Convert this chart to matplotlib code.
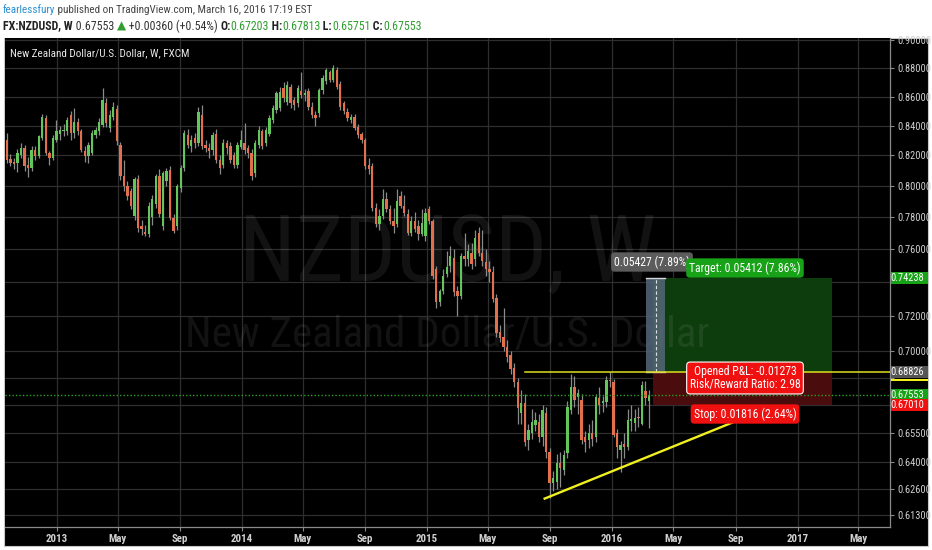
import matplotlib
matplotlib.use('Agg')
import matplotlib.pyplot as plt
import matplotlib.dates as mdates
from matplotlib import font_manager as fm
from matplotlib.patches import Rectangle
from matplotlib.ticker import NullLocator, FixedLocator, FixedFormatter
import pandas as pd

# pick a narrow face if one is installed
ttf = fm.fontManager.ttflist
names = {f.name for f in ttf}
narrow = None
for cand in ['Roboto Condensed', 'Liberation Sans Narrow', 'Open Sans Condensed',
             'DejaVu Sans Condensed', 'Noto Sans Display']:
    if cand in names:
        narrow = cand
        break
stretch = 'normal'
if narrow is None and any(f.name == 'DejaVu Sans' and f.stretch == 'condensed' for f in ttf):
    narrow, stretch = 'DejaVu Sans', 'condensed'
SC = 1.0
if narrow is None:
    narrow, SC = 'Liberation Sans', 0.86
plt.rcParams['font.family'] = [narrow, 'DejaVu Sans']
plt.rcParams['font.stretch'] = stretch

# weekly candles, NZDUSD, first bar = week of 2012-09-24
first_week = '2012-09-24'
opens = [0.8305, 0.8175, 0.8160, 0.8151, 0.8206, 0.8250, 0.8140, 0.8118, 0.8235, 0.8195,
         0.8316, 0.8451, 0.8217, 0.8184, 0.8305, 0.8345, 0.8361, 0.8361, 0.8473, 0.8350,
         0.8428, 0.8361, 0.8228, 0.8195, 0.8217, 0.8339, 0.8361, 0.8406, 0.8554, 0.8383,
         0.8462, 0.8515, 0.8272, 0.8064, 0.8000, 0.7967, 0.7808, 0.8042, 0.7745, 0.7708,
         0.7693, 0.7800, 0.7882, 0.8064, 0.7745, 0.8031, 0.8107, 0.7798, 0.7745, 0.7988,
         0.8118, 0.8339, 0.8261, 0.8316, 0.8283, 0.8473, 0.8272, 0.8250, 0.8239, 0.8345,
         0.8173, 0.8140, 0.8283, 0.8261, 0.8206, 0.8140, 0.8259, 0.8283, 0.8250, 0.8217,
         0.8086, 0.8272, 0.8361, 0.8283, 0.8345, 0.8440, 0.8508, 0.8519, 0.8658, 0.8565,
         0.8670, 0.8580, 0.8554, 0.8640, 0.8610, 0.8640, 0.8530, 0.8475, 0.8485, 0.8647,
         0.8710, 0.8770, 0.8717, 0.8790, 0.8690, 0.8554, 0.8496, 0.8440, 0.8462, 0.8390,
         0.8345, 0.8305, 0.8135, 0.8129, 0.7860, 0.7755, 0.7808, 0.7913, 0.7850, 0.7776,
         0.7755, 0.7935, 0.7871, 0.7819, 0.7703, 0.7776, 0.7745, 0.7693, 0.7680, 0.7850,
         0.7776, 0.7480, 0.7280, 0.7349, 0.7450, 0.7499, 0.7549, 0.7349, 0.7320, 0.7560,
         0.7539, 0.7580, 0.7539, 0.7700, 0.7580, 0.7525, 0.7480, 0.7460, 0.7305, 0.7110,
         0.7081, 0.7024, 0.6977, 0.6902, 0.6828, 0.6655, 0.6709, 0.6513, 0.6548, 0.6592,
         0.6610, 0.6530, 0.6655, 0.6452, 0.6290, 0.6297, 0.6391, 0.6357, 0.6443, 0.6673,
         0.6800, 0.6745, 0.6727, 0.6530, 0.6513, 0.6548, 0.6530, 0.6736, 0.6709, 0.6718,
         0.6838, 0.6828, 0.6548, 0.6460, 0.6490, 0.6478, 0.6612, 0.6601, 0.6637, 0.6600,
         0.6775, 0.67203]
highs = [0.8350, 0.8210, 0.8185, 0.8240, 0.8280, 0.8270, 0.8190, 0.8260, 0.8260, 0.8340,
         0.8480, 0.8470, 0.8230, 0.8340, 0.8440, 0.8400, 0.8410, 0.8460, 0.8500, 0.8520,
         0.8450, 0.8380, 0.8260, 0.8290, 0.8370, 0.8390, 0.8450, 0.8660, 0.8590, 0.8510,
         0.8560, 0.8540, 0.8290, 0.8170, 0.8030, 0.7990, 0.8060, 0.8070, 0.7780, 0.7750,
         0.7900, 0.7940, 0.8080, 0.8110, 0.8100, 0.8120, 0.8130, 0.7820, 0.8010, 0.8140,
         0.8370, 0.8380, 0.8340, 0.8350, 0.8530, 0.8542, 0.8300, 0.8280, 0.8360, 0.8380,
         0.8200, 0.8310, 0.8300, 0.8290, 0.8220, 0.8290, 0.8370, 0.8420, 0.8270, 0.8240,
         0.8300, 0.8400, 0.8380, 0.8390, 0.8470, 0.8540, 0.8640, 0.8670, 0.8700, 0.8710,
         0.8690, 0.8600, 0.8680, 0.8776, 0.8650, 0.8660, 0.8560, 0.8500, 0.8660, 0.8750,
         0.8800, 0.8790, 0.8823, 0.8810, 0.8710, 0.8570, 0.8520, 0.8480, 0.8480, 0.8410,
         0.8360, 0.8320, 0.8180, 0.8150, 0.7890, 0.7850, 0.7980, 0.7960, 0.7880, 0.7860,
         0.7980, 0.7970, 0.7940, 0.7850, 0.7810, 0.7830, 0.7780, 0.7850, 0.7860, 0.7870,
         0.7790, 0.7500, 0.7360, 0.7480, 0.7590, 0.7620, 0.7600, 0.7380, 0.7580, 0.7700,
         0.7630, 0.7640, 0.7720, 0.7740, 0.7720, 0.7600, 0.7530, 0.7500, 0.7330, 0.7150,
         0.7250, 0.7060, 0.7000, 0.6930, 0.6850, 0.6780, 0.6760, 0.6600, 0.6680, 0.6660,
         0.6650, 0.6700, 0.6690, 0.6470, 0.6350, 0.6440, 0.6450, 0.6460, 0.6720, 0.6870,
         0.6860, 0.6790, 0.6760, 0.6560, 0.6600, 0.6620, 0.6760, 0.6800, 0.6750, 0.6860,
         0.6882, 0.6840, 0.6570, 0.6510, 0.6550, 0.6680, 0.6700, 0.6680, 0.6690, 0.6830,
         0.6830, 0.67813]
lows = [0.8150, 0.8130, 0.8110, 0.8090, 0.8180, 0.8100, 0.8060, 0.8100, 0.8170, 0.8180,
        0.8300, 0.8200, 0.8140, 0.8170, 0.8290, 0.8300, 0.8330, 0.8340, 0.8300, 0.8320,
        0.8340, 0.8220, 0.8160, 0.8150, 0.8200, 0.8320, 0.8340, 0.8390, 0.8390, 0.8360,
        0.8440, 0.8270, 0.8040, 0.7970, 0.7910, 0.7850, 0.7780, 0.7710, 0.7690, 0.7685,
        0.7675, 0.7750, 0.7860, 0.7800, 0.7720, 0.8000, 0.7780, 0.7700, 0.7720, 0.7960,
        0.8100, 0.8250, 0.8220, 0.8250, 0.8260, 0.8240, 0.8220, 0.8180, 0.8200, 0.8150,
        0.8080, 0.8120, 0.8210, 0.8150, 0.8120, 0.8120, 0.8240, 0.8210, 0.8180, 0.8040,
        0.8060, 0.8250, 0.8240, 0.8260, 0.8330, 0.8420, 0.8490, 0.8500, 0.8560, 0.8540,
        0.8520, 0.8510, 0.8530, 0.8590, 0.8570, 0.8510, 0.8450, 0.8400, 0.8460, 0.8620,
        0.8690, 0.8700, 0.8700, 0.8650, 0.8510, 0.8480, 0.8430, 0.8420, 0.8370, 0.8320,
        0.8280, 0.8110, 0.8080, 0.7840, 0.7740, 0.7720, 0.7790, 0.7830, 0.7760, 0.7700,
        0.7740, 0.7860, 0.7810, 0.7690, 0.7680, 0.7710, 0.7660, 0.7680, 0.7650, 0.7760,
        0.7420, 0.7250, 0.7260, 0.7330, 0.7430, 0.7460, 0.7320, 0.7200, 0.7300, 0.7500,
        0.7500, 0.7480, 0.7500, 0.7560, 0.7500, 0.7440, 0.7400, 0.7280, 0.7080, 0.7050,
        0.7000, 0.6940, 0.6870, 0.6800, 0.6600, 0.6600, 0.6480, 0.6460, 0.6520, 0.6560,
        0.6500, 0.6480, 0.6420, 0.6213, 0.6250, 0.6260, 0.6270, 0.6330, 0.6420, 0.6650,
        0.6690, 0.6650, 0.6490, 0.6450, 0.6470, 0.6480, 0.6500, 0.6650, 0.6660, 0.6690,
        0.6800, 0.6530, 0.6420, 0.6347, 0.6420, 0.6460, 0.6560, 0.6560, 0.6580, 0.6590,
        0.6700, 0.65751]
closes = [0.8173, 0.8151, 0.8145, 0.8217, 0.8250, 0.8129, 0.8118, 0.8239, 0.8195, 0.8328,
          0.8458, 0.8217, 0.8184, 0.8316, 0.8361, 0.8368, 0.8372, 0.8440, 0.8350, 0.8428,
          0.8361, 0.8239, 0.8195, 0.8272, 0.8350, 0.8372, 0.8428, 0.8577, 0.8417, 0.8473,
          0.8530, 0.8294, 0.8064, 0.8000, 0.7935, 0.7871, 0.8042, 0.7735, 0.7724, 0.7693,
          0.7870, 0.7918, 0.8064, 0.7819, 0.8086, 0.8096, 0.7798, 0.7714, 0.7999, 0.8118,
          0.8350, 0.8272, 0.8305, 0.8283, 0.8496, 0.8266, 0.8252, 0.8228, 0.8339, 0.8173,
          0.8118, 0.8283, 0.8250, 0.8173, 0.8140, 0.8272, 0.8300, 0.8235, 0.8217, 0.8064,
          0.8283, 0.8372, 0.8261, 0.8372, 0.8451, 0.8519, 0.8622, 0.8634, 0.8589, 0.8682,
          0.8554, 0.8542, 0.8658, 0.8610, 0.8625, 0.8530, 0.8475, 0.8450, 0.8647, 0.8730,
          0.8788, 0.8717, 0.8800, 0.8670, 0.8530, 0.8500, 0.8450, 0.8460, 0.8383, 0.8340,
          0.8305, 0.8129, 0.8110, 0.7860, 0.7755, 0.7808, 0.7913, 0.7850, 0.7776, 0.7745,
          0.7902, 0.7871, 0.7829, 0.7703, 0.7776, 0.7724, 0.7693, 0.7766, 0.7829, 0.7776,
          0.7440, 0.7280, 0.7349, 0.7439, 0.7490, 0.7560, 0.7339, 0.7320, 0.7560, 0.7539,
          0.7590, 0.7510, 0.7670, 0.7580, 0.7530, 0.7480, 0.7460, 0.7300, 0.7101, 0.7075,
          0.7024, 0.6967, 0.6900, 0.6828, 0.6682, 0.6709, 0.6504, 0.6566, 0.6610, 0.6619,
          0.6530, 0.6673, 0.6452, 0.6288, 0.6314, 0.6391, 0.6365, 0.6435, 0.6691, 0.6800,
          0.6727, 0.6764, 0.6513, 0.6504, 0.6548, 0.6520, 0.6745, 0.6700, 0.6720, 0.6838,
          0.6830, 0.6540, 0.6478, 0.6485, 0.6478, 0.6619, 0.6622, 0.6628, 0.6628, 0.6810,
          0.6740, 0.67553]

price_ticks = [0.90, 0.88, 0.86, 0.84, 0.82, 0.80, 0.78, 0.76, 0.74, 0.72, 0.70,
               0.685, 0.67, 0.655, 0.64, 0.626, 0.613]
hidden_ticks = [0.74, 0.685, 0.67]
month_ticks = ['2013-01-01', '2013-05-01', '2013-09-01', '2014-01-01', '2014-05-01',
               '2014-09-01', '2015-01-01', '2015-05-01', '2015-09-01', '2016-01-01',
               '2016-05-01', '2016-09-01', '2017-01-01', '2017-05-01']
month_labels = ['2013', 'May', 'Sep', '2014', 'May', 'Sep', '2015', 'May', 'Sep',
                '2016', 'May', 'Sep', '2017', 'May']

# position tool
entry, target, stop = 0.68826, 0.74238, 0.67010
last_price = 0.67553
tool_start, tool_end = '2016-03-21', '2017-03-10'
bar_start, bar_end = '2016-03-09', '2016-04-14'
resist_start = '2015-07-14'
trend = (['2015-08-19', '2016-09-13'], [0.6209, 0.6626])

UP, DOWN, WICK = '#62c65a', '#e3704c', '#8a8a8a'
GRID = '#2e2e2e'

W, H = 932, 550
fig = plt.figure(figsize=(W / 100, H / 100), dpi=100, facecolor='white')


def fx(px):
    return px / W


def fy(py):
    return 1 - py / H


fig.patches.append(Rectangle((fx(4), fy(546)), fx(924), (546 - 38) / H,
                             transform=fig.transFigure, facecolor='black',
                             edgecolor='#c8c8c8', lw=0.8, zorder=-5))

ax = fig.add_axes([fx(5), fy(527), 885 / W, (527 - 38) / H])
ax.set_facecolor('black')

dates = mdates.date2num(pd.date_range(first_week, periods=len(closes), freq='7D'))
d13 = mdates.date2num(pd.Timestamp('2013-01-01'))
ppd = 185 / 365.0
ax.set_xlim(d13 - 52 / ppd, d13 + 833 / ppd)
ax.set_yscale('log')
ax.set_ylim(0.6070, 0.9018)

# candles
for d, o, h, l, c in zip(dates, opens, highs, lows, closes):
    col = UP if c >= o else DOWN
    ax.vlines(d, l, h, color=WICK, lw=0.9, zorder=3)
    ax.bar(d, max(abs(c - o), 0.0005), bottom=min(o, c),
           width=4.6, color=col, zorder=4, linewidth=0)

# axes styling
ax.yaxis.tick_right()
ax.yaxis.set_major_locator(FixedLocator(price_ticks))
ax.yaxis.set_major_formatter(FixedFormatter(
    ['' if p in hidden_ticks else '%.5f' % p for p in price_ticks]))
ax.yaxis.set_minor_locator(NullLocator())
ax.set_xticks(mdates.date2num(pd.to_datetime(month_ticks)))
ax.set_xticklabels(month_labels)
ax.grid(True, color=GRID, lw=0.9, zorder=0)
ax.tick_params(axis='y', colors='#8a8a8a', labelcolor='#d0d0d0', labelsize=7.5 * SC,
               length=3, pad=2)
ax.tick_params(axis='x', colors='#8a8a8a', labelcolor='#d0d0d0', labelsize=7.8 * SC,
               length=3, pad=2)
for lab in ax.get_xticklabels():
    lab.set_fontweight('bold')
for s in ['top', 'left']:
    ax.spines[s].set_visible(False)
for s in ['bottom', 'right']:
    ax.spines[s].set_color('#8a8a8a')
    ax.spines[s].set_linewidth(0.9)

# watermark
ax.text(0.500, (527 - 282) / 489, 'NZDUSD, W', transform=ax.transAxes, ha='center',
        va='baseline', fontsize=66 * SC, color='white', alpha=0.075, zorder=2.5)
ax.text(0.500, (527 - 347) / 489, 'New Zealand Dollar/U.S. Dollar', transform=ax.transAxes,
        ha='center', va='baseline', fontsize=31 * SC, color='white', alpha=0.075, zorder=2.5)
ax.text(0.006, 0.968, 'New Zealand Dollar/U.S. Dollar, W, FXCM', transform=ax.transAxes,
        ha='left', va='center', fontsize=8 * SC, color='#e8e8e8', zorder=6)

# position tool boxes
t0 = mdates.date2num(pd.Timestamp(tool_start))
t1 = mdates.date2num(pd.Timestamp(tool_end))
b0 = mdates.date2num(pd.Timestamp(bar_start))
b1 = mdates.date2num(pd.Timestamp(bar_end))
ax.add_patch(Rectangle((t0, entry), t1 - t0, target - entry, facecolor='#0d3c0d',
                       edgecolor='none', zorder=2))
ax.add_patch(Rectangle((t0, stop), t1 - t0, entry - stop, facecolor='#4a0c0c',
                       edgecolor='none', zorder=2))
ax.add_patch(Rectangle((b0, entry), b1 - b0, target - entry, facecolor='#56677a',
                       alpha=0.85, edgecolor='none', zorder=5))
ax.plot([b0, b1], [target, target], color='#d8d8d8', lw=1, zorder=6)
ax.plot([b0, b1], [entry, entry], color='#d8d8d8', lw=1, zorder=6)
ax.plot([b0 + 18, b0 + 18], [entry, target], color='#e0e0e0', lw=0.8,
        ls=(0, (3, 2)), zorder=6)

# lines
r0 = mdates.date2num(pd.Timestamp(resist_start))
ax.plot([r0, ax.get_xlim()[1]], [entry, entry], color='#e0e020', lw=1.1, zorder=6)
ax.axhline(last_price, color='#2aa02a', lw=1, ls=(0, (1, 1.5)), zorder=6)
ax.plot(mdates.date2num(pd.to_datetime(trend[0])), trend[1], color='#f0f020',
        lw=1.7, zorder=6, solid_capstyle='butt')


def box_label(x, y, s, fc, ec='none', fs=8.5):
    fig.text(fx(x), fy(y), s, ha='center', va='center', color='white', fontsize=fs * SC,
             linespacing=1.0, zorder=10,
             bbox=dict(boxstyle='round,pad=0.25,rounding_size=0.3', fc=fc, ec=ec, lw=0.8))


box_label(652, 262, '0.05427 (7.89%)', '#5c5c5c')
box_label(745, 268, 'Target: 0.05412 (7.86%)', '#17a217')
box_label(745, 378, 'Opened P&L: -0.01273\nRisk/Reward Ratio: 2.98', '#f01010', ec='white')
box_label(745, 414, 'Stop: 0.01816 (2.64%)', '#f01010')

# price axis tags
fig.canvas.draw()


def price_tag(price, s, fc):
    ypix = ax.transData.transform((ax.get_xlim()[0], price))[1]
    fig.patches.append(Rectangle((fx(890.5), (ypix - 6) / H), fx(37), 12 / H,
                                 transform=fig.transFigure, facecolor=fc,
                                 edgecolor='none', zorder=8))
    fig.text(fx(924), ypix / H, s, ha='right', va='center', color='white',
             fontsize=7.5 * SC, zorder=9)


price_tag(target, '0.74238', '#17a217')
price_tag(entry, '0.68826', '#555555')
yl = ax.transData.transform((ax.get_xlim()[0], entry))[1]
fig.patches.append(Rectangle((fx(890.5), (yl - 9) / H), fx(37), 2.2 / H,
                             transform=fig.transFigure, facecolor='#f0f020',
                             edgecolor='none', zorder=8))
price_tag(last_price, '0.67553', '#17a217')
price_tag(stop, '0.67010', '#f01010')

# header
renderer = fig.canvas.get_renderer()


def runs(x, y, parts, fs):
    for s, color, weight in parts:
        t = fig.text(fx(x), fy(y), s, color=color, fontweight=weight, fontsize=fs * SC,
                     va='center', ha='left')
        x += t.get_window_extent(renderer).width


G = '#2f9e2f'
runs(3, 10, [('fearlessfury', '#2a8fd0', 'normal'),
             (' published on TradingView.com, March 16, 2016 17:19 EST', '#444444', 'normal')],
     8.0)
runs(3, 26, [('FX:NZDUSD, W', '#222222', 'bold'),
             (' 0.67553 ', '#333333', 'normal'),
             ('\u25b2', G, 'normal'),
             (' +0.00360 (+0.54%) ', '#333333', 'normal'),
             ('O:', '#222222', 'bold'), ('0.67203', G, 'normal'),
             (' H:', '#222222', 'bold'), ('0.67813', G, 'normal'),
             (' L:', '#222222', 'bold'), ('0.65751', G, 'normal'),
             (' C:', '#222222', 'bold'), ('0.67553', G, 'normal')], 8.6)

fig.savefig('out.png', dpi=100, facecolor='white')
